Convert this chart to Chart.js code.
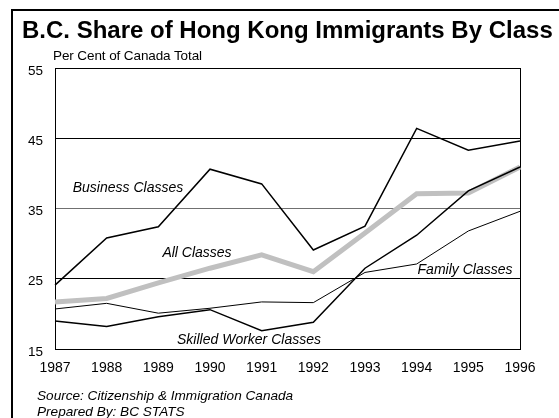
<!DOCTYPE html>
<html>
<head>
<meta charset="utf-8">
<script src="https://cdn.jsdelivr.net/npm/chart.js@4"></script>
<style>
  html, body { margin: 0; padding: 0; background: #fff; }
  #wrap { position: relative; width: 559px; height: 418px; overflow: hidden; font-family: "Liberation Sans", Arial, sans-serif; }
  #frame { position: absolute; left: 11px; top: 9px; width: 600px; height: 500px; border-left: 2px solid #000; border-top: 2px solid #000; }
  canvas { position: absolute; left: 0; top: 0; }
  .t { position: absolute; white-space: nowrap; line-height: 1; color: #000; }
  #title { left: 22px; top: 18px; font-size: 24px; font-weight: bold; }
  #sub { left: 53px; top: 49px; font-size: 13.5px; letter-spacing: -0.1px; }
  .foot { left: 37px; font-size: 13.6px; font-style: italic; }
  .lbl { font-size: 14px; font-style: italic; transform: translate(-50%, -50%); }
</style>
</head>
<body>
<div id="wrap">
  <div id="frame"></div>
  <canvas id="grafico" width="559" height="418"></canvas>
  <div class="t" id="title">B.C. Share of Hong Kong Immigrants By Class</div>
  <div class="t" id="sub">Per Cent of Canada Total</div>
  <div class="t lbl" style="left:128px; top:187px;">Business Classes</div>
  <div class="t lbl" style="left:197px; top:252px;">All Classes</div>
  <div class="t lbl" style="left:465px; top:269px;">Family Classes</div>
  <div class="t lbl" style="left:249px; top:339px;">Skilled Worker Classes</div>
  <div class="t foot" style="top:389px;">Source: Citizenship &amp; Immigration Canada</div>
  <div class="t foot" style="top:405px;">Prepared By: BC STATS</div>
</div>
<script>
const anos = ['1987', '1988', '1989', '1990', '1991', '1992', '1993', '1994', '1995', '1996'];
const business = [24.1, 30.8, 32.4, 40.6, 38.5, 29.1, 32.5, 46.4, 43.3, 44.6];
const allClasses = [21.7, 22.2, 24.4, 26.5, 28.4, 26.0, 31.5, 37.1, 37.2, 40.9];
const skilled = [19.0, 18.2, 19.6, 20.6, 17.6, 18.8, 26.5, 31.2, 37.5, 40.9];
const family = [20.7, 21.5, 20.1, 20.8, 21.7, 21.6, 25.9, 27.1, 31.8, 34.6];
const yTicks = [15, 25, 35, 45, 55];

const ctx = document.getElementById('grafico').getContext('2d');

new Chart(ctx, {
  type: 'line',
  data: {
    labels: anos,
    datasets: [
      { label: 'Business Classes', data: business, borderColor: '#000', borderWidth: 1.5, order: 1 },
      { label: 'Skilled Worker Classes', data: skilled, borderColor: '#000', borderWidth: 1.5, order: 2 },
      { label: 'Family Classes', data: family, borderColor: '#000', borderWidth: 1, order: 3 },
      { label: 'All Classes', data: allClasses, borderColor: '#c0c0c0', borderWidth: 5, order: 10 }
    ]
  },
  options: {
    responsive: false,
    animation: false,
    elements: {
      point: { radius: 0, hoverRadius: 0 },
      line: { tension: 0, borderJoinStyle: 'miter', fill: false }
    },
    layout: { padding: { left: 0, right: 39, top: 68, bottom: 0 } },
    plugins: {
      legend: { display: false },
      tooltip: { enabled: false }
    },
    scales: {
      x: {
        offset: false,
        grid: {
          drawTicks: false,
          color: c => (c.index === 0 || c.index === anos.length - 1) ? '#000' : 'transparent',
          lineWidth: 1
        },
        border: { color: '#000', width: 1 },
        ticks: {
          color: '#000',
          padding: 11,
          maxRotation: 0,
          font: { family: '"Liberation Sans", Arial', size: 14 }
        },
        afterFit: s => { s.height = 69; }
      },
      y: {
        min: 15,
        max: 55,
        afterBuildTicks: s => { s.ticks = yTicks.map(v => ({ value: v })); },
        grid: {
          drawTicks: false,
          color: c => c.tick && c.tick.value === 35 ? '#707070' : '#000',
          lineWidth: 1
        },
        border: { color: '#000', width: 1 },
        ticks: {
          color: '#000',
          padding: 12,
          labelOffset: 3,
          font: { family: '"Liberation Sans", Arial', size: 13.5 }
        },
        afterFit: s => { s.width = 55; }
      }
    }
  }
});
</script>
</body>
</html>
